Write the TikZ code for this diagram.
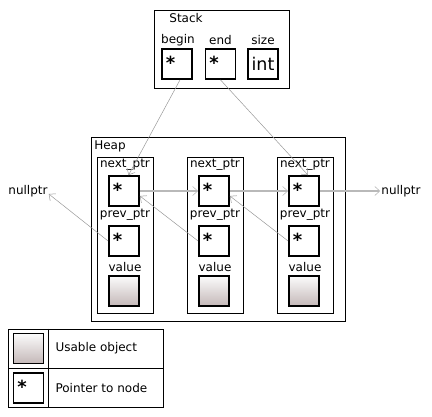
\documentclass[tikz,border=0pt]{standalone}
\usepackage{fontspec}
\setmainfont{DejaVu Sans}
\usetikzlibrary{positioning, arrows.meta}
\definecolor{valbot}{RGB}{196,184,184}
\tikzset{
x=1pt, y=-1pt, % pixel-like units, y grows downwards
font=\fontsize{12}{14}\selectfont, % sets the size of every label
frame/.style={draw, line width=0.8pt}, % the Stack, Heap and node frames
cell/.style={draw, line width=1.8pt, minimum width=30, minimum height=30, inner sep=0pt}, % the small boxes
star/.style={anchor=center, inner sep=0pt, font=\fontsize{18}{18}\bfseries\selectfont}, % the asterisk
ptr/.style={cell, append after command={node[star] at ([shift={(9.5pt,-14.5pt)}]\tikzlastnode.north west) {*}}}, % a pointer box
val/.style={cell, top color=white!97!gray, bottom color=valbot}, % a usable object
nextarrow/.style={-{Straight Barb[length=5pt, width=9pt, line width=0.6pt]}, draw=gray!55, line width=1.6pt}, % next pointers
prevarrow/.style={-{Straight Barb[length=5pt, width=9pt]}, draw=gray!80, line width=0.5pt}, % prev pointers
}

\begin{document}
\begin{tikzpicture}
    \useasboundingbox (0,0) rectangle (432,417);
    % stack
    \node[frame, minimum width=135, minimum height=78] (stack) at (221.5,49) {};
    \node (stacklbl) at (186,18) {Stack};
    \node (beginlbl) at (178,40) {begin};
    \node (endlbl) at (220.5,40) {end};
    \node (sizelbl) at (263,40) {size};
    \node[ptr] (begin) at (177,64) {};
    \node[ptr] (end) at (220.5,64) {};
    \node[cell, font=\fontsize{17.5}{18}\selectfont] (size) at (263,64) {int};
    % heap
    \node[frame, minimum width=254, minimum height=184] (heap) at (218,229) {};
    \node (heaplbl) at (110,146) {Heap};
    \foreach \i/\x in {1/125, 2/215, 3/305} {
        \node[frame, minimum width=56, minimum height=156] (n\i) at (\x,235) {};
        \node (n\i nextlbl) at (\x,165) {next\_ptr};
        \node (n\i prevlbl) at (\x,215) {prev\_ptr};
        \node (n\i vallbl) at (\x,267) {value};
        \node[ptr] (n\i next) at (\x-1,191) {};
        \node[ptr] (n\i prev) at (\x-1,241) {};
        \node[val] (n\i val) at (\x-1,291) {};
    }
    \node[inner sep=1pt] (nullL) at (28,191) {nullptr};
    \node[inner sep=1pt] (nullR) at (401,191) {nullptr};
    % pointers
    \draw[nextarrow] (n1next.east) -- (n2next.west);
    \draw[nextarrow] (n2next.east) -- (n3next.west);
    \draw[nextarrow] (n3next.east) -- (nullR.west);
    \draw[prevarrow] (n1prev.west) -- ([yshift=-3pt]nullL.east);
    \draw[prevarrow] (n2prev.west) -- ([yshift=-5pt]n1next.east);
    \draw[prevarrow] (n3prev.west) -- ([yshift=-5pt]n2next.east);
    \draw[prevarrow] ([xshift=3pt]begin.south) -- ([xshift=4.5pt]n1next.north);
    \draw[prevarrow] (end.south) -- ([xshift=4pt]n3next.north);
    % legend
    \draw[line width=0.8pt] (8,329) rectangle (163,407);
    \draw[line width=0.8pt] (8,368) -- (163,368);
    \draw[line width=0.8pt] (48,329) -- (48,407);
    \node[val] (legval) at (28.5,348.5) {};
    \node[ptr] (legptr) at (28.5,388) {};
    \node[anchor=west] (legvallbl) at (52,348) {Usable object};
    \node[anchor=west] (legptrlbl) at (52,388) {Pointer to node};
\end{tikzpicture}
\end{document}
